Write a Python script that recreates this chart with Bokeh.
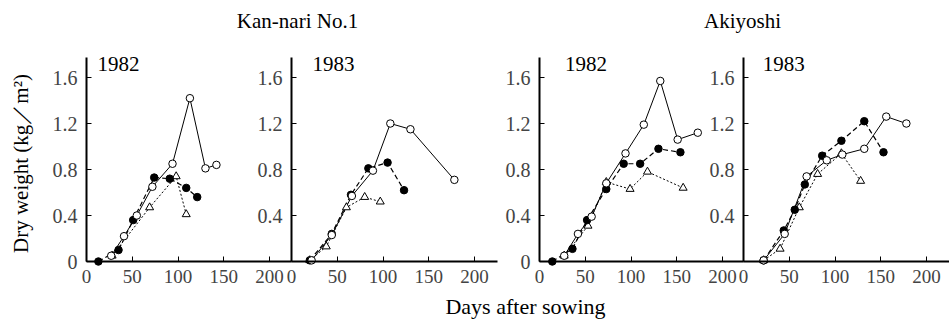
import math
from bokeh.plotting import figure
from bokeh.models import Range1d, LinearAxis, FixedTicker
from bokeh.core.properties import value
from bokeh.embed import file_html
from bokeh.resources import INLINE

# ---------------- data ----------------
cultivars = ["Kan-nari No.1", "Akiyoshi"]
panel_years = ["1982", "1983", "1982", "1983"]
x_title = "Days after sowing"
y_title = "Dry weight (kg\uff0fm\u00b2)"

x_ticks = [0, 50, 100, 150, 200]
y_ticks = [0, 0.4, 0.8, 1.2, 1.6]
y_tick_labels = ["0", "0.4", "0.8", "1.2", "1.6"]

# Kan-nari No.1, 1982
kn82_open_x = [27, 41, 55, 72, 94, 113, 130, 142]
kn82_open_y = [0.05, 0.22, 0.40, 0.65, 0.85, 1.42, 0.81, 0.84]
kn82_fill_x = [13, 35, 51, 74, 91, 109, 121]
kn82_fill_y = [0.00, 0.10, 0.36, 0.73, 0.72, 0.64, 0.56]
kn82_tri_x = [28, 69, 98, 109]
kn82_tri_y = [0.05, 0.47, 0.74, 0.41]

# Kan-nari No.1, 1983
kn83_open_x = [22, 44, 66, 89, 108, 130, 178]
kn83_open_y = [0.01, 0.23, 0.57, 0.79, 1.20, 1.15, 0.71]
kn83_fill_x = [20, 44, 65, 84, 105, 123]
kn83_fill_y = [0.01, 0.24, 0.58, 0.81, 0.86, 0.62]
kn83_tri_x = [20, 38, 60, 80, 97]
kn83_tri_y = [0.01, 0.13, 0.47, 0.56, 0.52]

# Akiyoshi, 1982
ak82_open_x = [27, 42, 57, 73, 94, 114, 132, 151, 173]
ak82_open_y = [0.05, 0.24, 0.39, 0.68, 0.94, 1.19, 1.57, 1.06, 1.12]
ak82_fill_x = [14, 36, 52, 73, 92, 110, 130, 154]
ak82_fill_y = [0.00, 0.11, 0.36, 0.63, 0.85, 0.85, 0.98, 0.95]
ak82_tri_x = [27, 53, 73, 99, 118, 157]
ak82_tri_y = [0.05, 0.31, 0.69, 0.63, 0.78, 0.64]

# Akiyoshi, 1983
ak83_open_x = [22, 45, 69, 91, 108, 132, 156, 178]
ak83_open_y = [0.01, 0.24, 0.74, 0.88, 0.93, 0.98, 1.26, 1.20]
ak83_fill_x = [22, 44, 56, 67, 86, 107, 132, 153]
ak83_fill_y = [0.01, 0.27, 0.45, 0.67, 0.92, 1.05, 1.22, 0.95]
ak83_tri_x = [22, 40, 61, 81, 107, 128]
ak83_tri_y = [0.01, 0.11, 0.47, 0.76, 0.94, 0.70]

panels = [
    (kn82_open_x, kn82_open_y, kn82_fill_x, kn82_fill_y, kn82_tri_x, kn82_tri_y),
    (kn83_open_x, kn83_open_y, kn83_fill_x, kn83_fill_y, kn83_tri_x, kn83_tri_y),
    (ak82_open_x, ak82_open_y, ak82_fill_x, ak82_fill_y, ak82_tri_x, ak82_tri_y),
    (ak83_open_x, ak83_open_y, ak83_fill_x, ak83_fill_y, ak83_tri_x, ak83_tri_y),
]

# ---------------- layout (frame covers the whole canvas) ----------------
FONT = "Liberation Serif"
W, H = 949, 323
ppd = 0.915            # pixels per day
ppu = 115.0            # pixels per kg/m2
X0_PX = 86             # pixel of day 0 in first panel
Y0_PX = 261            # pixel of 0 kg/m2
axis_px = [86, 291, 539, 743]      # x pixel of each panel's y axis
axis_len = [224, 225, 223, 226]    # x-axis extent (days)
year_x = [12, 23, 28, 21]

def px_to_day(px):
    return (px - X0_PX) / ppd

def py_to_val(py):
    return (Y0_PX - py) / ppu

p = figure(width=W, height=H, output_backend="svg", toolbar_location=None,
           x_range=Range1d(px_to_day(0), px_to_day(W)),
           y_range=Range1d(py_to_val(H), py_to_val(0)),
           x_axis_location=None, y_axis_location=None,
           min_border_left=0, min_border_right=0, min_border_top=0, min_border_bottom=0)
p.xgrid.visible = False
p.ygrid.visible = False
p.outline_line_color = None
p.background_fill_color = "white"
p.border_fill_color = "white"

range_names = ["default", "p2", "p3", "p4"]
for k in range(1, 4):
    off = (axis_px[k] - X0_PX) / ppd
    p.extra_x_ranges[range_names[k]] = Range1d(px_to_day(0) - off, px_to_day(W) - off)

for k, rn in enumerate(range_names):
    yt = y_ticks[1:] if k in (1, 3) else y_ticks
    ya = LinearAxis(x_range_name=rn, fixed_location=0, bounds=(0, 1.77),
                    ticker=FixedTicker(ticks=yt),
                    major_label_overrides={t: l for t, l in zip(y_ticks, y_tick_labels)})
    ya.axis_line_width = 2
    ya.major_tick_in = 5
    ya.major_tick_out = 0
    ya.minor_tick_in = 0
    ya.minor_tick_out = 0
    ya.major_label_standoff = 9
    ya.major_label_text_font = FONT
    ya.major_label_text_font_size = "20px"
    p.add_layout(ya, "left")

    xa = LinearAxis(x_range_name=rn, fixed_location=0, bounds=(0, axis_len[k]),
                    ticker=FixedTicker(ticks=x_ticks))
    xa.axis_line_width = 2
    xa.major_tick_in = 5
    xa.major_tick_out = 0
    xa.minor_tick_in = 0
    xa.minor_tick_out = 0
    xa.major_label_standoff = 8
    xa.major_label_text_font = FONT
    xa.major_label_text_font_size = "19px"
    p.add_layout(xa, "below")

    ox, oy, fx, fy, tx, ty = panels[k]
    p.line(tx, ty, x_range_name=rn, line_color="black", line_width=1, line_dash="2 2")
    p.line(fx, fy, x_range_name=rn, line_color="black", line_width=1.2, line_dash="5 3")
    p.line(ox, oy, x_range_name=rn, line_color="black", line_width=1)
    p.scatter(tx, ty, x_range_name=rn, marker="triangle", size=8,
              fill_color="white", line_color="black", line_width=1)
    p.scatter(fx, fy, x_range_name=rn, marker="circle", size=7.5,
              fill_color="black", line_color="black")
    p.scatter(ox, oy, x_range_name=rn, marker="circle", size=7.5,
              fill_color="white", line_color="black", line_width=1)

    p.text(x=[year_x[k]], y=[py_to_val(63)], text=[panel_years[k]], x_range_name=rn,
           text_font=value(FONT), text_font_size="21px", text_color="black",
           text_align="left", text_baseline="middle")

# cultivar titles
p.text(x=[px_to_day(297), px_to_day(742)], y=[py_to_val(20)] * 2, text=cultivars,
       text_font=value(FONT), text_font_size="21px", text_color="black",
       text_align="center", text_baseline="middle")

# axis titles
p.text(x=[px_to_day(525)], y=[py_to_val(306)], text=[x_title],
       text_font=value(FONT), text_font_size="22px", text_color="black",
       text_align="center", text_baseline="middle")
p.text(x=[px_to_day(20)], y=[py_to_val(163)], text=[y_title], angle=math.pi / 2,
       text_font=value(FONT), text_font_size="21px", text_color="black",
       text_align="center", text_baseline="middle")

open("out.html", "w").write(file_html(p, INLINE))
